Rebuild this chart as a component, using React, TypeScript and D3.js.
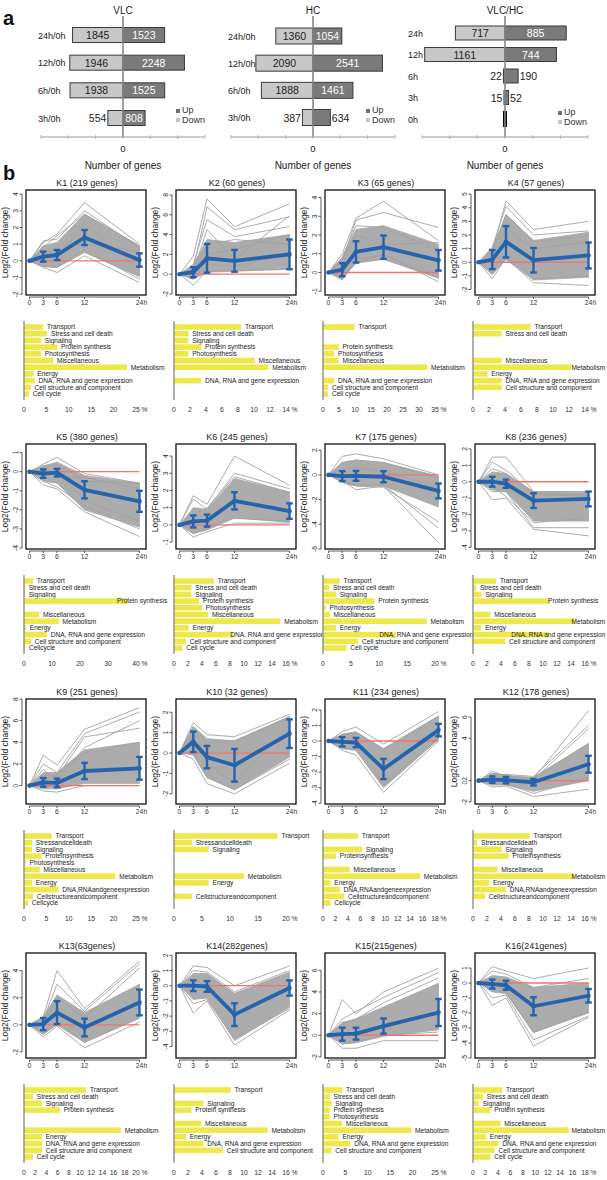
import * as d3 from "d3";

// ---- panel a: number of DE genes ----
const compareLabels = ["24h/0h", "12h/0h", "6h/0h", "3h/0h"];
const vlcDown = [1845, 1946, 1938, 554];
const vlcUp = [1523, 2248, 1525, 808];
const hcDown = [1360, 2090, 1888, 387];
const hcUp = [1054, 2541, 1461, 634];
const ratioLabels = ["24h", "12h", "6h", "3h", "0h"];
const ratioDown = [717, 1161, 22, 15, 0];
const ratioUp = [885, 744, 190, 52, 0];

// ---- panel b: clusters ----
const timePoints = [0, 3, 6, 12, 24];
const clusterTitles = [
  "K1 (219 genes)", "K2 (60 genes)", "K3 (65 genes)", "K4 (57 genes)",
  "K5 (380 genes)", "K6 (245 genes)", "K7 (175 genes)", "K8 (236 genes)",
  "K9 (251 genes)", "K10 (32 genes)", "K11 (234 genes)", "K12 (178 genes)",
  "K13(63genes)", "K14(282genes)", "K15(215genes)", "K16(241genes)",
];
const yDomains = [
  [-2.05, 4.25], [-2.1, 8.5], [-1.2, 4.4], [-2.4, 5.3],
  [-4.05, 1.45], [-1.4, 4.7], [-6.0, 2.5], [-4.1, 2.3],
  [-1.7, 8.0], [-2.5, 2.65], [-4.05, 2.7], [-2.2, 7.7],
  [-2.45, 5.3], [-4.75, 2.15], [-2.1, 7.6], [-5.0, 2.0],
];
const yTicks = [
  [-2, -1, 0, 1, 2, 3, 4], [-2, 0, 2, 4, 6, 8], [-1, 0, 1, 2, 3, 4], [-2, -1, 0, 1, 2, 3, 4, 5],
  [-4, -3, -2, -1, 0, 1], [-1, 0, 1, 2, 3, 4], [-6, -4, -2, 0, 2], [-4, -3, -2, -1, 0, 1, 2],
  [0, 2, 4, 6, 8], [-2, -1, 0, 1, 2], [-4, -3, -2, -1, 0, 1, 2], [-2, 0, 4, 6],
  [-2, 0, 2, 4], [-4, -3, -2, -1, 0, 1, 2], [-2, 0, 2, 4, 6], [-5, -4, -3, -2, -1, 0, 1],
];
const k12ZeroLabel = "02";

const meanProfiles = [
  [0, 0.25, 0.35, 1.4, 0.05], [0, 0.2, 1.6, 1.35, 2.0], [0, 0.15, 1.1, 1.35, 0.65], [0, 0.2, 1.5, 0.15, 0.5],
  [0, -0.1, -0.05, -0.95, -1.55], [0, 0.2, 0.25, 1.4, 0.8], [0, -0.1, -0.08, -0.15, -1.3], [0, 0, -0.12, -1.15, -1.05],
  [0, 0.3, 0.25, 1.35, 1.6], [0, 0.55, -0.2, -0.6, 0.95], [0, -0.05, -0.1, -1.8, 0.7], [0, 0.1, 0.05, -0.15, 1.55],
  [0, 0.05, 0.9, -0.2, 1.65], [0, 0, -0.05, -1.9, -0.15], [0, 0.1, 0.15, 0.85, 2.1], [0, -0.07, -0.15, -1.55, -0.85],
];
const sdProfiles = [
  [0, 0.3, 0.3, 0.45, 0.4], [0, 0.5, 1.45, 1.1, 1.5], [0, 0.35, 0.57, 0.62, 0.55], [0, 0.7, 1.15, 0.9, 0.95],
  [0, 0.22, 0.2, 0.45, 0.55], [0, 0.35, 0.35, 0.5, 0.45], [0, 0.4, 0.4, 0.45, 0.6], [0, 0.3, 0.25, 0.45, 0.45],
  [0, 0.4, 0.4, 0.75, 1.05], [0, 0.5, 0.55, 0.8, 0.7], [0, 0.3, 0.3, 0.65, 0.4], [0, 0.3, 0.3, 0.3, 0.8],
  [0, 0.45, 0.85, 0.65, 0.95], [0, 0.35, 0.35, 0.75, 0.5], [0, 0.6, 0.55, 0.7, 1.25], [0, 0.3, 0.3, 0.6, 0.45],
];
// dense core of the gene profiles
const bandLow = [
  [0, -0.35, -0.4, 0.5, -0.95], [0, -0.5, 0.2, 0.3, 0.5], [0, -0.35, 0.5, 0.7, -0.3], [0, -0.9, 0.2, -1.3, -1.1],
  [0, -0.5, -0.6, -2.0, -2.9], [0, -0.5, -0.3, 0.4, 0.15], [0, -0.6, -0.9, -0.9, -2.6], [0, -0.5, -0.6, -2.4, -2.4],
  [0, -0.3, -0.3, 0.2, 0.2], [0, -0.1, -1.2, -1.8, -0.2], [0, -0.5, -0.6, -3.0, 0.1], [0, -0.4, -0.4, -1.0, 0.0],
  [0, -0.7, 0.0, -1.3, 0.5], [0, -0.9, -0.8, -3.6, -1.4], [0, -0.8, -0.7, -0.1, 0.5], [0, -0.6, -0.7, -3.3, -2.0],
];
const bandHigh = [
  [0, 0.9, 1.1, 2.8, 0.9], [0, 0.9, 3.5, 3.2, 4.0], [0, 0.8, 2.3, 2.5, 1.5], [0, 1.0, 3.5, 1.6, 2.2],
  [0, 0.3, 0.5, -0.2, -0.6], [0, 1.0, 0.9, 2.7, 1.9], [0, 1.0, 1.2, 1.0, -0.1], [0, 0.6, 0.5, -0.6, -0.65],
  [0, 1.2, 1.2, 3.3, 4.0], [0, 1.3, 0.7, 0.6, 1.8], [0, 0.45, 0.6, -0.5, 1.6], [0, 0.7, 0.5, 0.3, 3.5],
  [0, 0.6, 2.2, 0.9, 3.0], [0, 0.8, 0.8, -0.5, 0.9], [0, 1.2, 1.5, 2.6, 4.8], [0, 0.5, 0.4, -0.3, 0.0],
];
// individual outlying gene profiles
const grayProfiles = [
  [[0, 1.1, 1.6, 3.5, 1.0], [0, 1.2, 1.3, 3.0, 0.8], [0, 0.8, 1.5, 2.8, 0.9], [0, -0.4, -0.7, 0.3, -1.3], [0, -0.3, -0.4, 0.7, -1.1], [0, 0.6, 0.3, 2.2, -0.5], [0, 0.2, 0.9, 1.0, 0.6]],
  [[0, 1.8, 7.6, 4.8, 7.1], [0, 0.5, 6.8, 4.5, 5.8], [0, 1.0, 5.5, 3.8, 4.8], [0, 0.3, 4.5, 1.5, 5.9], [0, -1.1, 0.3, 0.4, 0.5], [0, 0.2, 3.0, 3.5, 3.0], [0, 0.6, 2.0, 2.5, 4.0], [0, -0.5, 1.0, 0.8, 2.0]],
  [[0, 1.0, 2.9, 3.8, 1.7], [0, 0.6, 2.8, 3.2, 2.4], [0, 0.8, 2.5, 2.4, 1.2], [0, -0.4, 0.7, 0.9, -0.3], [0, 0.3, 2.0, 1.5, 1.6], [0, -0.2, 0.5, 1.0, -0.5]],
  [[0, 0.8, 4.5, 2.4, 3.0], [0, 1.1, 4.1, 2.0, 2.3], [0, 0.5, 3.5, 1.5, 2.0], [0, -1.2, 0.3, -1.5, -1.7], [0, -0.8, 0.8, -1.2, -1.0], [0, 0.2, 2.5, 1.0, 1.5]],
  [[0, 0.4, 0.75, -0.1, -0.6], [0, 0.3, 0.4, -0.5, -0.6], [0, -0.7, -0.9, -2.1, -3.4], [0, -0.5, -0.8, -1.8, -3.0], [0, -0.2, 0.1, -1.5, -2.6], [0, 0.1, -0.3, -0.3, -0.9]],
  [[0, 1.7, 1.2, 4.0, 2.3], [0, 1.5, 0.9, 3.0, 2.1], [0, 0.6, 1.0, 2.8, 1.9], [0, -0.7, -0.4, 0.1, 0.1], [0, -0.5, -0.2, 0.4, 0.2]],
  [[0, 1.5, 1.7, 1.3, 0.0], [0, 1.0, 1.2, 1.0, -0.3], [0, -0.5, -1.2, -0.9, -5.5], [0, -0.4, -0.8, -0.8, -4.3], [0, -0.6, -0.9, -1.0, -3.8], [0, 0.5, 0.6, 0.3, -1.0]],
  [[0, 1.5, 1.5, -0.6, -0.6], [0, 1.2, 0.7, -0.7, -0.9], [0, -1.1, -1.0, -2.9, -3.3], [0, -0.6, -0.6, -2.8, -2.8], [0, -0.3, -0.9, -2.5, -2.2], [0, 0.8, 0.5, -0.8, -0.8]],
  [[0, 2.8, 1.9, 5.2, 7.2], [0, 2.0, 1.2, 4.8, 6.8], [0, 1.0, 0.8, 4.5, 5.3], [0, 1.5, 0.5, 3.5, 6.0], [0, 0.5, 1.0, 3.0, 4.0], [0, -0.5, -0.6, 0.0, 0.0]],
  [[0, 1.5, 0.9, 0.8, 1.9], [0, 1.3, 0.5, 0.6, 1.7], [0, -0.3, -1.5, -2.0, -0.5], [0, 0.0, -1.2, -1.8, -0.3], [0, 0.8, -0.5, -1.5, 1.4]],
  [[0, 0.6, 0.9, -0.2, 1.9], [0, 0.4, 0.5, -0.5, 1.6], [0, -0.6, -0.9, -3.3, 0.0], [0, -0.4, -0.6, -2.8, 0.2]],
  [[0, 0.9, 0.4, 0.2, 6.6], [0, 0.5, 0.6, 0.4, 5.2], [0, 0.7, 0.5, 0.1, 4.9], [0, 0.3, 0.2, 0.3, 3.5], [0, -0.6, -0.5, -1.5, -0.8], [0, -0.4, -0.3, -1.2, 0.3]],
  [[0, 0.6, 4.0, 1.2, 4.7], [0, 0.4, 3.0, 1.0, 4.5], [0, 0.0, 2.0, 0.5, 4.2], [0, -0.9, -0.1, -1.7, 0.2], [0, -0.7, 0.2, -1.3, 0.5]],
  [[0, 1.3, 1.2, 0.0, 1.3], [0, 1.0, 0.9, -0.4, 1.0], [0, -1.8, -1.0, -3.9, -1.6], [0, -1.2, -0.9, -3.5, -1.5]],
  [[0, 3.3, 2.0, 4.0, 6.2], [0, 1.5, 2.2, 3.5, 5.8], [0, 1.0, 1.5, 3.0, 5.3], [0, -1.2, -1.2, -0.5, -0.5], [0, -0.8, -0.6, 0.0, 0.3]],
  [[0, 1.1, 0.8, 0.3, 1.0], [0, 0.8, 0.6, -0.3, 0.3], [0, -1.5, -1.0, -4.2, -2.3], [0, -1.0, -0.8, -3.8, -2.2], [0, -0.5, -0.6, -3.3, -1.9]],
];

// ---- functional categories (% of genes) ----
const categories = [
  "Transport", "Stress and cell death", "Signaling", "Protein synthesis", "Photosynthesis",
  "Miscellaneous", "Metabolism", "Energy", "DNA, RNA and gene expression",
  "Cell structure and component", "Cell cycle",
];
const categoryShares = [
  [4.3, 5.2, 3.8, 7.4, 3.8, 6.5, 23, 2.1, 2.4, 1.5, 1.1],
  [8.4, 1.8, 1.8, 3.4, 1.8, 10.1, 11.8, 0, 3.4, 0, 0],
  [9.9, 0, 0, 4.9, 3.5, 4.9, 32.6, 0, 3.5, 1.6, 1.6],
  [7.2, 3.6, 0, 0, 0, 3.6, 12.3, 1.8, 3.6, 3.6, 0],
  [3.2, 0.3, 0.3, 37, 0, 5.4, 12.4, 0.7, 8.2, 2.5, 0.4],
  [5.7, 2.5, 2.5, 3.6, 4.0, 4.9, 15.2, 2.1, 8.5, 1.7, 1.2],
  [3.0, 1.1, 2.3, 9.2, 0.5, 1.2, 18.5, 2.3, 13, 6.3, 4.2],
  [3.3, 0.45, 1.2, 10.9, 0, 2.5, 14.6, 1.2, 10.8, 4.6, 0],
  [6.2, 1.8, 1.8, 3.9, 0.4, 3.5, 20.4, 1.8, 7.7, 2.0, 0.9],
  [18.5, 3.2, 6.2, 0, 0, 0, 12.5, 6.2, 0, 3.2, 0],
  [5.6, 0, 6.3, 2.1, 0, 4.3, 15.6, 1.2, 2.7, 3.4, 1.2],
  [8.1, 0.6, 4.1, 5.1, 0, 3.5, 14.5, 2.3, 4.7, 1.7, 0],
  [11.1, 1.6, 3.2, 6.4, 0, 0, 17.3, 3.2, 3.2, 3.2, 1.6],
  [8.1, 0, 4.2, 2.5, 0, 3.9, 13.4, 1.7, 4.2, 7.0, 0],
  [4.3, 1.5, 1.9, 1.5, 1.5, 4.3, 19.7, 3.5, 6.1, 1.9, 0],
  [4.7, 1.6, 0.95, 2.8, 0, 4.4, 15.4, 2.1, 4.1, 3.5, 2.8],
];
const shareAxisMax = [25, 14, 35, 14, 40, 16, 20, 16, 25, 20, 18, 16, 20, 16, 25, 18];
const shareAxisStep = [5, 2, 5, 2, 10, 2, 5, 2, 5, 5, 2, 2, 2, 2, 5, 2];
const spacelessPanels = [8, 9, 10, 11];

const FONT = "'Liberation Sans', Arial, sans-serif";
const colX = [29, 179, 328, 478];
const rowY = [190, 444, 699, 953];
const FH = 105;

interface DivCfg {
  title: string;
  cx: number;
  half: number;
  max: number;
  step: number;
  labels: string[];
  down: number[];
  up: number[];
  y0: number;
  y1: number;
  barH: number;
  labelX: number;
  legendX: number;
  legendY: number;
}

const divCharts: DivCfg[] = [
  { title: "VLC", cx: 123, half: 82, max: 3000, step: 1000, labels: compareLabels, down: vlcDown, up: vlcUp, y0: 35, y1: 118, barH: 15, labelX: 38, legendX: 176, legendY: 113 },
  { title: "HC", cx: 313, half: 82, max: 3000, step: 1000, labels: compareLabels, down: hcDown, up: hcUp, y0: 36, y1: 117.5, barH: 16, labelX: 228, legendX: 366, legendY: 113 },
  { title: "VLC/HC", cx: 505, half: 83, max: 1200, step: 400, labels: ratioLabels, down: ratioDown, up: ratioUp, y0: 33, y1: 119, barH: 14, labelX: 408, legendX: 558, legendY: 115 },
];

function Diverging({ c }: { c: DivCfg }) {
  const x = d3.scaleLinear().domain([-c.max, c.max]).range([c.cx - c.half, c.cx + c.half]);
  const y = d3.scalePoint<string>().domain(c.labels).range([c.y0, c.y1]);
  const ticks = d3.range(-c.max, c.max + 1, c.step);
  const axisY = 137;
  return (
    <g>
      <text x={c.cx} y={14} textAnchor="middle" fontSize={10} fill="#222">{c.title}</text>
      {c.labels.map((lab, i) => {
        const cy = y(lab)!;
        const d = c.down[i];
        const u = c.up[i];
        const x0 = x(0);
        const wD = x0 - x(-d);
        const wU = x(u) - x0;
        if (d === 0 && u === 0) {
          return (
            <g key={lab}>
              <text x={c.labelX} y={cy + 3.5} fontSize={9} fill="#222">{lab}</text>
              <rect x={x0 - 2} y={cy - 8} width={4} height={16} fill="#000" />
            </g>
          );
        }
        return (
          <g key={lab}>
            <text x={c.labelX} y={cy + 3.5} fontSize={9} fill="#222">{lab}</text>
            <rect x={x(-d)} y={cy - c.barH / 2} width={wD} height={c.barH} fill="#c8c8c8" stroke="#3a3a3a" strokeWidth={1} />
            <rect x={x0} y={cy - c.barH / 2} width={wU} height={c.barH} fill="#7a7a7a" stroke="#3a3a3a" strokeWidth={1} />
            {wD >= 22 ? (
              <text x={x0 - wD / 2} y={cy + 4} textAnchor="middle" fontSize={10.5} fill="#222">{d}</text>
            ) : (
              <text x={x0 - wD - 1.5} y={cy + 4} textAnchor="end" fontSize={10.5} fill="#222">{d}</text>
            )}
            {wU >= 22 ? (
              <text x={x0 + wU / 2} y={cy + 4} textAnchor="middle" fontSize={10.5} fill="#fff">{u}</text>
            ) : (
              <text x={x0 + wU + 1.5} y={cy + 4} textAnchor="start" fontSize={10.5} fill="#222">{u}</text>
            )}
          </g>
        );
      })}
      <line x1={x(0)} x2={x(0)} y1={16} y2={axisY} stroke="#888" strokeWidth={1.6} />
      <line x1={x(-c.max)} x2={x(c.max)} y1={axisY} y2={axisY} stroke="#999" strokeWidth={1} />
      {ticks.map((t) => (
        <line key={t} x1={x(t)} x2={x(t)} y1={axisY - 2} y2={axisY + 2} stroke="#aaa" strokeWidth={0.8} />
      ))}
      <text x={x(0)} y={152} textAnchor="middle" fontSize={9.5} fill="#222">0</text>
      <text x={x(0)} y={169} textAnchor="middle" fontSize={10} fill="#222">Number of genes</text>
      <rect x={c.legendX} y={c.legendY - 4} width={4} height={4} fill="#6f6f6f" />
      <text x={c.legendX + 6} y={c.legendY} fontSize={9} fill="#333">Up</text>
      <rect x={c.legendX} y={c.legendY + 5} width={4} height={4} fill="#c4c4c4" />
      <text x={c.legendX + 6} y={c.legendY + 9.5} fontSize={9} fill="#333">Down</text>
    </g>
  );
}

function Cluster({ k }: { k: number }) {
  const L = colX[k % 4];
  const T = rowY[Math.floor(k / 4)];
  const x = d3.scaleLinear().domain([0, 24]).range([L + 0.5, L + 110.5]);
  const y = d3.scaleLinear().domain(yDomains[k]).range([T + FH, T]);
  const line = d3.line<number>().x((_, j) => x(timePoints[j])).y((v) => y(v));
  const band = d3
    .area<number>()
    .x((_, j) => x(timePoints[j]))
    .y0((_, j) => y(bandLow[k][j]))
    .y1((v) => y(v));
  const yt = yTicks[k];
  const axX = L - 7;
  const axY = T + FH + 2;
  return (
    <g>
      <text x={L + 58} y={T - 4.5} textAnchor="middle" fontSize={9} fill="#222">{clusterTitles[k]}</text>
      <path d={band(bandHigh[k])!} fill="#acacac" stroke="#a6a6a6" strokeWidth={0.8} />
      {grayProfiles[k].map((p, i) => (
        <path key={i} d={line(p)!} fill="none" stroke="#a3a3a3" strokeWidth={0.9} />
      ))}
      <line x1={x(0)} x2={x(24)} y1={y(0)} y2={y(0)} stroke="#ec7573" strokeWidth={1.3} />
      <path d={line(meanProfiles[k])!} fill="none" stroke="#2563ac" strokeWidth={3.8} strokeLinejoin="round" />
      {meanProfiles[k].map((m, j) => {
        const s = sdProfiles[k][j];
        const px = x(timePoints[j]);
        return (
          <g key={j}>
            {s > 0 && (
              <g stroke="#2563ac" strokeWidth={2.4}>
                <line x1={px} x2={px} y1={y(m - s)} y2={y(m + s)} />
                <line x1={px - 3.3} x2={px + 3.3} y1={y(m - s)} y2={y(m - s)} />
                <line x1={px - 3.3} x2={px + 3.3} y1={y(m + s)} y2={y(m + s)} />
              </g>
            )}
            <circle cx={px} cy={y(m)} r={2.3} fill="#2563ac" />
          </g>
        );
      })}
      <rect x={L - 3} y={T} width={120} height={FH} fill="none" stroke="#111" strokeWidth={1.3} />
      <line x1={axX} x2={axX} y1={y(yt[0])} y2={y(yt[yt.length - 1])} stroke="#333" strokeWidth={0.8} />
      {yt.map((t) => (
        <g key={t}>
          <line x1={axX - 2.5} x2={axX} y1={y(t)} y2={y(t)} stroke="#333" strokeWidth={0.8} />
          <text
            transform={`translate(${axX - 4},${y(t)}) rotate(-90)`}
            textAnchor="middle"
            fontSize={6.8}
            fill="#333"
          >
            {k === 11 && t === 0 ? k12ZeroLabel : t}
          </text>
        </g>
      ))}
      <text
        transform={`translate(${L - 21},${T + FH / 2}) rotate(-90)`}
        textAnchor="middle"
        fontSize={8.5}
        fill="#222"
      >
        Log2(Fold change)
      </text>
      <line x1={x(0)} x2={x(24)} y1={axY} y2={axY} stroke="#333" strokeWidth={0.8} />
      {timePoints.map((t) => (
        <g key={t}>
          <line x1={x(t)} x2={x(t)} y1={axY} y2={axY + 2} stroke="#333" strokeWidth={0.8} />
          <text x={x(t) + (t === 24 ? 2 : 0)} y={axY + 8} textAnchor="middle" fontSize={6.8} fill="#333">
            {t === 24 ? "24h" : t}
          </text>
        </g>
      ))}
    </g>
  );
}

function Shares({ k }: { k: number }) {
  const L = colX[k % 4];
  const T = rowY[Math.floor(k / 4)];
  const bx = d3.scaleLinear().domain([0, shareAxisMax[k]]).range([L - 5, L + 107]);
  const by = d3.scalePoint<string>().domain(categories).range([T + 137, T + 204]);
  const ticks = d3.range(0, shareAxisMax[k] + 0.001, shareAxisStep[k]);
  const labelY = T + 222;
  const squash = spacelessPanels.includes(k);
  const rightLimit = Math.min(605, L + 145);
  return (
    <g>
      {categories.map((c, i) => {
        const v = categoryShares[k][i];
        if (v <= 0) return null;
        let lab = squash ? c.replace(/ /g, "") : c;
        if (k === 4 && c === "Cell cycle") lab = "Cellcycle";
        const estW = lab.length * 3.35;
        const tx = Math.min(bx(v) + 3.8, rightLimit - estW);
        return (
          <g key={c}>
            <rect x={bx(0)} y={by(c)! - 2.8} width={bx(v) - bx(0)} height={5.6} fill="#eee84a" />
            <text x={tx} y={by(c)! + 2.3} fontSize={6.6} fill="#222">{lab}</text>
          </g>
        );
      })}
      <line x1={bx(0)} x2={bx(0)} y1={T + 131} y2={T + 210} stroke="#8f8f8f" strokeWidth={1.4} />
      {ticks.map((t, i) => (
        <g key={t}>
          <text x={bx(t)} y={labelY} textAnchor="middle" fontSize={6.8} fill="#333">{t}</text>
          {i === ticks.length - 1 && (
            <text x={bx(t) + (t >= 10 ? 5.5 : 3.5)} y={labelY} fontSize={6.8} fill="#333">%</text>
          )}
        </g>
      ))}
    </g>
  );
}

export default function App() {
  const ks = d3.range(16);
  return (
    <svg
      width={607}
      height={1180}
      style={{ position: "absolute", left: 0, top: 0, fontFamily: FONT }}
    >
      <rect width={607} height={1180} fill="#fff" />
      <text x={3} y={25} fontSize={20} fontWeight="bold" fill="#111">a</text>
      {divCharts.map((c) => (
        <Diverging key={c.title} c={c} />
      ))}
      <text x={3} y={180} fontSize={20} fontWeight="bold" fill="#111">b</text>
      {ks.map((k) => (
        <g key={k}>
          <Cluster k={k} />
          <Shares k={k} />
        </g>
      ))}
    </svg>
  );
}
